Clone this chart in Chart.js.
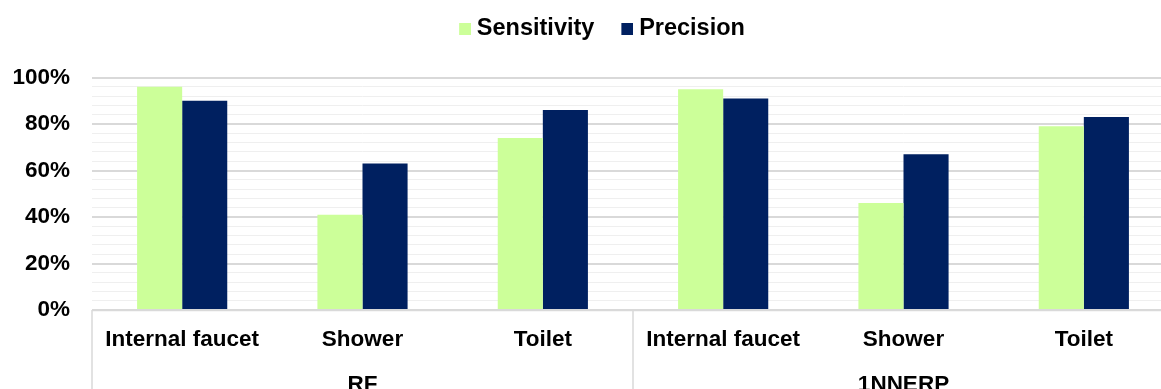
<!DOCTYPE html>
<html>
<head>
<meta charset="utf-8">
<script src="https://cdn.jsdelivr.net/npm/chart.js@4/dist/chart.umd.min.js"></script>
<style>
  html, body { margin: 0; padding: 0; background: #fff; overflow: hidden; }
  #wrap { position: relative; width: 1161px; height: 389px; overflow: hidden; }
</style>
</head>
<body>
<div id="wrap"><canvas id="c" width="1202" height="400"></canvas></div>
<script>
// Sub-categories along the bottom axis, and the model each block belongs to
const categories = ['Internal faucet', 'Shower', 'Toilet', 'Internal faucet', 'Shower', 'Toilet'];
const groups = ['RF', '1NNERP'];
const groupSize = 3;

// Scores in percent
const sensitivity = [96, 41, 74, 95, 46, 79];
const precision = [90, 63, 86, 91, 67, 83];

const seriesColors = ['#CCFF99', '#002060'];

// Y ticks every 4 %, labelled every 20 %
const yMax = 100;
const yStep = 4;
const yLabelEvery = 20;

const FAMILY = '"Liberation Sans", Arial, sans-serif';
const AXIS_FONT = { family: FAMILY, size: 22.5, weight: 'bold' };
const LEGEND_FONT = { family: FAMILY, size: 23.5, weight: 'bold' };

// Legend swatch: 12px square sitting at the right of a 24px image,
// so it hugs the label text
function swatch(color) {
  const cv = document.createElement('canvas');
  cv.width = 24;
  cv.height = 12;
  const g = cv.getContext('2d');
  g.fillStyle = color;
  g.fillRect(12, 0, 12, 12);
  return cv;
}
const swatches = seriesColors.map(swatch);

// Legend spacing: extra room below it, and a small nudge to the right
const legendTweak = {
  id: 'legendTweak',
  beforeUpdate(chart) {
    const lg = chart.legend;
    if (lg && !lg._gapPatched) {
      const fit = lg.fit;
      lg.fit = function () { fit.call(this); this.height += 27; };
      lg._gapPatched = true;
    }
  },
  afterLayout(chart) {
    const lg = chart.legend;
    if (lg) { lg.left += 12; lg.right += 12; }
  }
};

// Draws the boxed two-level category axis (top line + group separators)
const groupBoxes = {
  id: 'groupBoxes',
  afterDraw(chart) {
    const { ctx, chartArea, scales } = chart;
    const x = scales.x;
    const half = (x.getPixelForValue(1) - x.getPixelForValue(0)) / 2;
    ctx.save();
    ctx.strokeStyle = '#d9d9d9';
    ctx.lineWidth = 1.5;
    ctx.beginPath();
    ctx.moveTo(x.getPixelForValue(0) - half, chartArea.bottom + 0.5);
    ctx.lineTo(x.getPixelForValue(categories.length - 1) + half, chartArea.bottom + 0.5);
    for (let i = 0; i <= categories.length; i += groupSize) {
      const px = i < categories.length ? x.getPixelForValue(i) - half : x.getPixelForValue(i - 1) + half;
      ctx.moveTo(px, chartArea.bottom);
      ctx.lineTo(px, chart.height);
    }
    ctx.stroke();
    ctx.restore();
  }
};

new Chart(document.getElementById('c'), {
  type: 'bar',
  data: {
    labels: categories,
    datasets: [
      { label: 'Sensitivity', data: sensitivity, backgroundColor: seriesColors[0], xAxisID: 'x' },
      { label: 'Precision', data: precision, backgroundColor: seriesColors[1], xAxisID: 'x' }
    ]
  },
  options: {
    responsive: false,
    animation: false,
    events: [],
    layout: { padding: { left: 0, right: 28, top: -4, bottom: 0 } },
    datasets: { bar: { categoryPercentage: 0.5, barPercentage: 1.0 } },
    plugins: {
      legend: {
        position: 'top',
        align: 'center',
        labels: {
          font: LEGEND_FONT,
          color: '#000',
          boxWidth: 12,
          boxHeight: 12,
          usePointStyle: true,
          padding: 21,
          generateLabels(chart) {
            const items = Chart.defaults.plugins.legend.labels.generateLabels(chart);
            items.forEach((it, i) => { it.pointStyle = swatches[i]; });
            return items;
          }
        }
      },
      tooltip: { enabled: false }
    },
    scales: {
      y: {
        min: 0,
        max: yMax,
        afterFit(s) { s.width = 92; },
        border: { display: false },
        grid: {
          drawTicks: false,
          color: c => (c.tick.value % yLabelEvery === 0 ? '#d9d9d9' : '#efefef'),
          lineWidth: c => (c.tick.value % yLabelEvery === 0 ? 2 : 1)
        },
        ticks: {
          stepSize: yStep,
          autoSkip: false,
          padding: 22,
          color: '#000',
          font: AXIS_FONT,
          callback: v => (v % yLabelEvery === 0 ? v + '%' : '')
        }
      },
      x: {
        weight: 0,
        afterFit(s) { s.height = 45; },
        border: { display: false },
        grid: { display: false, drawTicks: false },
        ticks: { color: '#000', font: AXIS_FONT, padding: 16, autoSkip: false, maxRotation: 0 }
      },
      group: {
        type: 'category',
        position: 'bottom',
        weight: 1,
        labels: groups,
        offset: true,
        afterFit(s) { s.height = 45; },
        border: { display: false },
        grid: { display: false, drawTicks: false },
        ticks: { color: '#000', font: AXIS_FONT, padding: 16, autoSkip: false, maxRotation: 0 }
      }
    }
  },
  plugins: [legendTweak, groupBoxes]
});
</script>
</body>
</html>
